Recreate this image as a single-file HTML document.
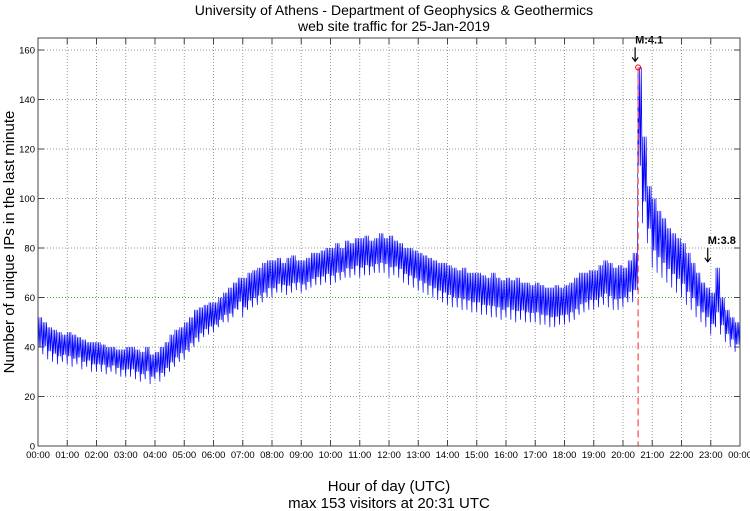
<!DOCTYPE html>
<html><head><meta charset="utf-8"><style>
body{margin:0;background:#fff;}
svg{display:block;font-family:"Liberation Sans",sans-serif;}
</style></head><body>
<svg id="c" width="750" height="511">
<text x="394" y="15" font-size="14" text-anchor="middle">University of Athens - Department of Geophysics &amp; Geothermics</text>
<text x="394" y="31" font-size="14" text-anchor="middle">web site traffic for 25-Jan-2019</text>
<text transform="translate(14,242) rotate(-90)" font-size="15" text-anchor="middle">Number of unique IPs in the last minute</text>
<text x="389" y="491" font-size="15" text-anchor="middle">Hour of day (UTC)</text>
<text x="389" y="508" font-size="15" text-anchor="middle">max 153 visitors at 20:31 UTC</text>
<g id="grid"></g><g id="series"></g><g id="ann"></g><g id="axes"></g>
</svg>
<script>
const hours=["00:00","01:00","02:00","03:00","04:00","05:00","06:00","07:00","08:00","09:00","10:00","11:00","12:00","13:00","14:00","15:00","16:00","17:00","18:00","19:00","20:00","21:00","22:00","23:00","00:00"];
const yTicks=[0,20,40,60,80,100,120,140,160];
const lowVals=[36,37,35,34,33,34,33,32,33,31,32,30,30,30,29,30,29,28,28,28,27,26,27,25,27,26,28,30,32,34,35,38,40,42,44,45,46,48,50,50,52,55,52,55,56,57,58,60,60,62,62,61,62,63,62,63,64,65,65,66,65,66,67,68,68,69,68,69,69,70,70,70,68,69,68,66,65,64,63,62,61,60,59,58,57,56,56,55,55,54,54,53,53,52,52,51,52,51,50,51,50,50,50,49,49,48,48,49,49,50,51,53,54,55,55,56,57,56,55,55,56,58,58,100,90,82,72,70,68,66,64,62,60,57,55,52,50,48,45,48,45,42,40,38,40];
const highVals=[52,50,48,47,46,45,46,45,44,43,42,42,42,41,40,40,39,39,40,40,39,38,40,37,38,40,42,45,47,48,50,52,55,56,57,58,58,60,62,64,66,68,68,70,71,72,74,75,75,76,74,76,77,75,75,76,78,78,79,80,80,82,80,83,82,84,84,85,83,84,86,84,85,83,82,80,80,79,78,77,76,75,74,74,73,72,71,72,70,70,70,69,68,70,68,67,68,67,68,66,66,65,66,65,64,64,65,64,65,66,68,70,70,71,71,73,75,74,72,73,72,75,78,153,125,105,100,95,92,88,86,84,82,78,74,70,66,64,62,72,60,55,52,50,48];
const refLevel=60;
const maxHour=20+31/60, maxVal=153;
const quake2Hour=23, quake2Val=72;
const L=38,R=740,T=38,B=446;
const xs=h=>L+h*(R-L)/24;
const ys=v=>B-v*(B-50)/160;
const NS="http://www.w3.org/2000/svg";
function mk(p,t,a){const e=document.createElementNS(NS,t);for(const k in a)e.setAttribute(k,a[k]);p.appendChild(e);return e;}
const grid=document.getElementById('grid'),axes=document.getElementById('axes'),ser=document.getElementById('series'),ann=document.getElementById('ann');
hours.forEach((lab,i)=>{const x=xs(i);
 if(i>0&&i<24){const g=mk(grid,'line',{x1:x,x2:x,y1:T,y2:B,stroke:'#999','stroke-dasharray':'1,2','stroke-width':1});
 }
 mk(axes,'line',{x1:x,x2:x,y1:B,y2:B-6,stroke:'#444'});mk(axes,'line',{x1:x,x2:x,y1:T,y2:T+6,stroke:'#444'});
 const t=mk(axes,'text',{x:x,y:B+12,'font-size':9.5,'text-anchor':'middle'});t.textContent=lab;
 });
yTicks.forEach(v=>{const y=ys(v);
 if(v>0){const g=mk(grid,'line',{x1:L,x2:R,y1:y,y2:y,stroke:'#999','stroke-dasharray':'1,2','stroke-width':1});
 }
 mk(axes,'line',{x1:L,x2:L+6,y1:y,y2:y,stroke:'#444'});mk(axes,'line',{x1:R,x2:R-6,y1:y,y2:y,stroke:'#444'});
 const t=mk(axes,'text',{x:L-3,y:y+3.5,'font-size':9.5,'text-anchor':'end'});t.textContent=v;
 });
const fr=mk(axes,'rect',{x:L,y:T,width:R-L,height:B-T,fill:'none',stroke:'#444'});

const rl=mk(ser,'line',{x1:L,x2:R,y1:ys(refLevel),y2:ys(refLevel),stroke:'#3a3','stroke-dasharray':'1,2'});

// dense band: within each 10-minute bin, the trace swings between that bin's low and high
let d='';const n=lowVals.length-1;const SW=6;
for(let i=0;i<=n;i++){const h=i/6;
 d+=(i?'L':'M')+xs(h).toFixed(2)+','+ys(lowVals[i]).toFixed(1);
 if(i<n){for(let k=0;k<SW;k++){
   const hh=h+(k+0.5)/(SW*6);
   const v=(k%2===0)?highVals[i]:lowVals[i]+(highVals[i]-lowVals[i])*0.25;
   d+='L'+xs(hh).toFixed(2)+','+ys(v).toFixed(1);}}}
const p=mk(ser,'path',{d:d,fill:'none',stroke:'#00f','stroke-width':0.7});

const vl=mk(ann,'line',{x1:xs(maxHour),x2:xs(maxHour),y1:ys(maxVal),y2:B,stroke:'#f55','stroke-width':1.3,'stroke-dasharray':'7,4'});

const mc=mk(ann,'circle',{cx:xs(maxHour),cy:ys(maxVal),r:2.5,fill:'none',stroke:'#f00'});

function quake(h,v,lab,name){const x=xs(h),y=ys(v);
 mk(ann,'path',{d:`M${x-3},${y-20}L${x-3},${y-7}M${x-6},${y-10}L${x-3},${y-6}L${x},${y-10}`,stroke:'#000','stroke-width':1.2,fill:'none'});
 const t=mk(ann,'text',{x:x-3,y:y-24,'font-size':11,'font-weight':'bold'});t.textContent=lab;
 }
quake(maxHour,maxVal,'M:4.1','quake-label-m41');
quake(quake2Hour,quake2Val,'M:3.8','quake-label-m38');
</script>
</body></html>
